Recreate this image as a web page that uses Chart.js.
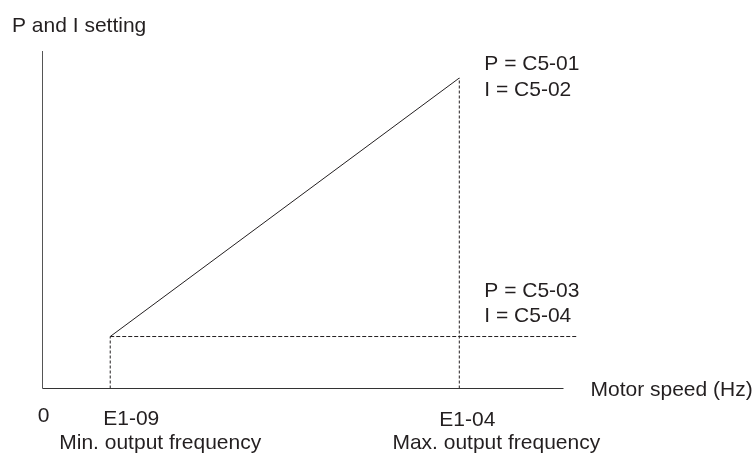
<!DOCTYPE html>
<html>
<head>
<meta charset="utf-8">
<script src="https://cdn.jsdelivr.net/npm/chart.js@4/dist/chart.umd.min.js"></script>
<style>
  html, body { margin: 0; padding: 0; background: #fff; }
  #wrap { position: relative; width: 756px; height: 457px; }
</style>
</head>
<body>
<div id="wrap"><canvas id="mainChart"></canvas></div>
<script>
// Frequency positions (x, % of axis length) and gain levels (y, % of axis height)
const freqTicks = [0, 13, 80];
const freqLabels = ['0', 'E1-09', 'E1-04'];
const freqNotes = ['', 'Min. output frequency', 'Max. output frequency'];
const axisEnd = 100;
const lowLineEnd = 102.8;
const gainLevels = [15.4, 92];
const gainLabels = [['P = C5-03', 'I = C5-04'], ['P = C5-01', 'I = C5-02']];
const yTitle = 'P and I setting';
const xTitle = 'Motor speed (Hz)';

const TEXT = '#231f20';
const FONT = '21px "Liberation Sans", Arial, sans-serif';

document.addEventListener('DOMContentLoaded', function () {
  const ctx = document.getElementById('mainChart').getContext('2d');
  const fMin = freqTicks[1], fMax = freqTicks[2];
  const gLow = gainLevels[0], gHigh = gainLevels[1];

  const lineDs = (data, color, dash, width) => ({
    data: data, showLine: true, borderColor: color, borderWidth: width || 1,
    borderDash: dash || [], pointRadius: 0, fill: false, clip: false
  });

  // text labels drawn relative to the scales
  const labelsPlugin = {
    id: 'labels',
    afterDraw(chart) {
      const c = chart.ctx;
      const xs = chart.scales.x, ys = chart.scales.y;
      c.save();
      c.fillStyle = TEXT;
      c.font = FONT;
      c.textBaseline = 'alphabetic';

      c.textAlign = 'left';
      c.fillText(yTitle, 12, 32);
      c.fillText(xTitle, xs.getPixelForValue(axisEnd) + 27, ys.getPixelForValue(0) + 7);

      // tick labels and notes under the frequency axis
      const tickDx = [1, 21, 8];
      const tickDy = [33, 36, 37];
      const noteDx = [0, 50, 37];
      freqTicks.forEach((v, i) => {
        const px = xs.getPixelForValue(v);
        const base = ys.getPixelForValue(0);
        c.textAlign = 'center';
        c.fillText(freqLabels[i], px + tickDx[i], base + tickDy[i]);
        if (freqNotes[i]) c.fillText(freqNotes[i], px + noteDx[i], base + 60);
      });

      // gain setting labels
      const gainDy = [-40, -8];
      c.textAlign = 'left';
      gainLevels.forEach((g, i) => {
        const px = xs.getPixelForValue(fMax) + 25;
        const py = ys.getPixelForValue(g) + gainDy[i];
        gainLabels[i].forEach((t, j) => c.fillText(t, px, py + j * 25.5));
      });
      c.restore();
    }
  };

  new Chart(ctx, {
    type: 'scatter',
    data: {
      datasets: [
        lineDs([{ x: 0, y: 0 }, { x: 0, y: 100 }], '#555', [], 1),
        lineDs([{ x: 0, y: 0 }, { x: axisEnd, y: 0 }], '#333', [], 1),
        lineDs([{ x: fMin, y: gLow }, { x: fMax, y: gHigh }], '#231f20', [], 1),
        lineDs([{ x: fMin, y: 0 }, { x: fMin, y: gLow }], '#231f20', [3, 2], 1),
        lineDs([{ x: fMax, y: 0 }, { x: fMax, y: gHigh }], '#231f20', [3, 2], 1),
        lineDs([{ x: fMin, y: gLow }, { x: lowLineEnd, y: gLow }], '#231f20', [4, 2], 1)
      ]
    },
    options: {
      responsive: true,
      maintainAspectRatio: false,
      animation: false,
      layout: { padding: { left: 42.5, right: 192.5, top: 51, bottom: 68.5 } },
      plugins: { legend: { display: false }, tooltip: { enabled: false } },
      scales: {
        x: { type: 'linear', display: false, min: 0, max: 100 },
        y: { type: 'linear', display: false, min: 0, max: 100 }
      }
    },
    plugins: [labelsPlugin]
  });
});
</script>
</body>
</html>
